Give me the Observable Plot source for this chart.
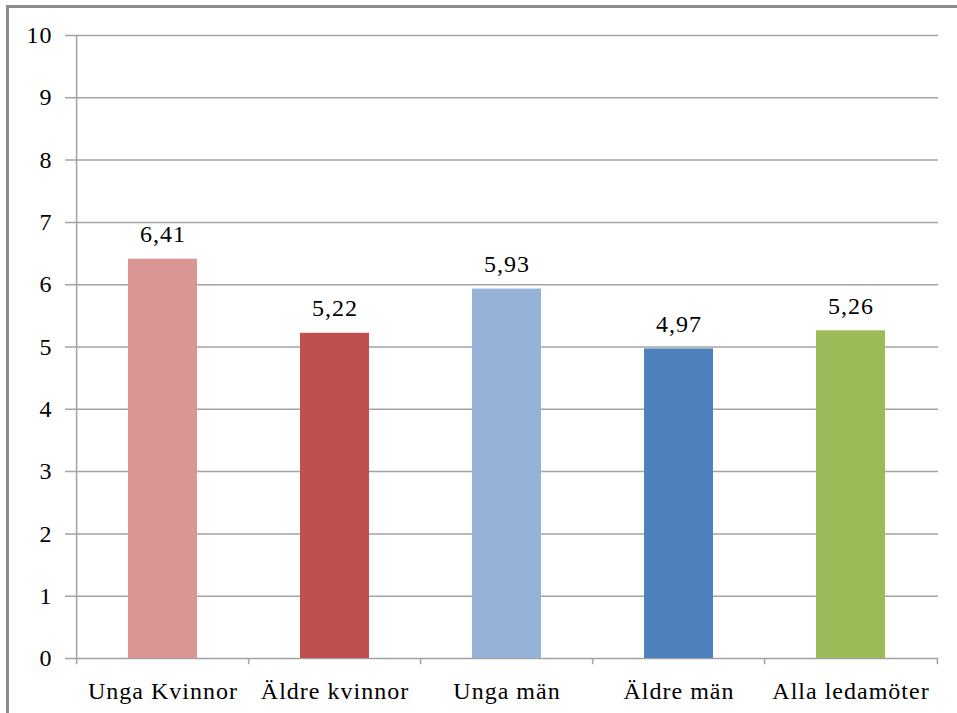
<!DOCTYPE html>
<html>
<head>
<meta charset="utf-8">
<script src="https://cdn.jsdelivr.net/npm/d3@7"></script>
<script src="https://cdn.jsdelivr.net/npm/@observablehq/plot@0.6"></script>
<style>
  html, body { margin: 0; padding: 0; background: #fff; }
  #wrap { position: relative; width: 957px; height: 713px; overflow: hidden; }
  #frame { position: absolute; left: 6px; top: 5px; right: -10px; bottom: -10px;
           border-top: 3px solid #8c8c8c; border-left: 3px solid #8c8c8c; pointer-events: none; }
  #chart { position: absolute; left: 0; top: 0; }
</style>
</head>
<body>
<div id="wrap"><div id="chart"></div><div id="frame"></div></div>
<script>
const categories = ["Unga Kvinnor", "Äldre kvinnor", "Unga män", "Äldre män", "Alla ledamöter"];
const values = [6.41, 5.22, 5.93, 4.97, 5.26];
const colors = ["#D99694", "#C0504D", "#95B3D7", "#4F81BD", "#9BBB59"];
const yTicks = [0, 1, 2, 3, 4, 5, 6, 7, 8, 9, 10];

const data = categories.map((c, i) => ({category: c, value: values[i], color: colors[i]}));

const W = 957, H = 713, mL = 74, mR = 19, mT = 35, mB = 55;
const step = (W - mL - mR) / categories.length;
const gridColor = "#a3a3a3";
const font = "Liberation Serif";
const fs = 24;
const fmt = v => v.toFixed(2).replace(".", ",");

const chart = Plot.plot({
  width: W, height: H,
  marginLeft: mL, marginRight: mR, marginTop: mT, marginBottom: mB,
  style: {fontSize: fs + "px", fontFamily: font, color: "#000", background: "transparent"},
  x: {type: "band", domain: categories, paddingInner: 0.6, paddingOuter: 0.3, align: 0.5},
  y: {domain: [0, 10]},
  marks: [
    Plot.ruleY(yTicks, {y: d => d, stroke: gridColor, strokeWidth: 1.5, insetLeft: -9}),
    Plot.barY(data, {x: "category", y: "value", fill: "color"}),
    Plot.ruleX([categories[0]], {x: d => d, dx: -step / 2, y1: 0, y2: 10, stroke: gridColor, strokeWidth: 1.5}),
    Plot.ruleX(categories, {x: d => d, dx: -step / 2, y1: 0, y2: -0.1, stroke: gridColor, strokeWidth: 1.5}),
    Plot.ruleX([categories[categories.length - 1]], {x: d => d, dx: step / 2, y1: 0, y2: -0.1, stroke: gridColor, strokeWidth: 1.5}),
    Plot.text(data, {x: "category", y: "value", text: d => fmt(d.value), dy: -17, lineAnchor: "bottom",
      fill: "#000", fontSize: fs, fontFamily: font}),
    Plot.axisY(yTicks, {tickSize: 0, tickPadding: 22, fontSize: fs, fontFamily: font, fill: "#000",
      label: null, tickFormat: d => String(d)}),
    Plot.axisX({tickSize: 0, tickPadding: 23, fontSize: fs, fontFamily: font, fill: "#000", label: null})
  ]
});
d3.select(chart).selectAll("text")
  .style("font-family", "'Liberation Serif', serif")
  .style("font-size", fs + "px")
  .style("letter-spacing", "1px");
document.getElementById("chart").appendChild(chart);
</script>
</body>
</html>
